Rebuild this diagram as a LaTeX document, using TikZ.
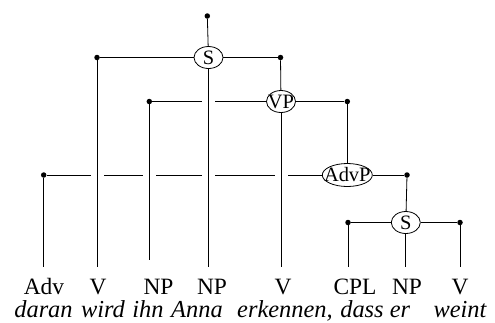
\documentclass[tikz,border=0pt]{standalone}
\usepackage{fontspec}
\setmainfont{Liberation Serif}
\usetikzlibrary{shapes.geometric}
\begin{document}
\begin{tikzpicture}[x=1bp,y=-1bp,
  phr/.style={ellipse,draw,line width=0.8bp,fill=white,inner sep=0pt,minimum width=29bp,minimum height=22bp,font=\fontsize{20.5}{20.5}\selectfont},
  dot/.style={circle,fill,inner sep=0pt,minimum size=5.5bp},
  ln/.style={line width=0.8bp},
  under/.style={ln,preaction={draw=white,line width=13bp,shorten <=9bp}},
  lab/.style={anchor=base,inner sep=0pt,font=\fontsize{23.5}{24}\selectfont},
  wd/.style={anchor=base,inner sep=0pt,font=\fontsize{24.5}{25}\selectfont\itshape}]
\useasboundingbox (0,0) rectangle (495,322);
% phrase nodes
\node[phr] (S1) at (208.5,57.5) {\makebox[0pt]{S}};
\node[phr] (VP) at (281,101.5) {\makebox[0pt]{VP}};
\node[phr,minimum width=50bp,minimum height=23bp] (AdvP) at (347.3,175) {\makebox[0pt]{AdvP}};
\node[phr] (S2) at (405.8,222.5) {\makebox[0pt]{S}};
% dots
\node[dot] (root) at (207.3,16) {};
\node[dot] (s1l) at (97,57.5) {};
\node[dot] (s1r) at (280.5,57.5) {};
\node[dot] (vpl) at (149.3,101.5) {};
\node[dot] (vpr) at (347.3,101.5) {};
\node[dot] (apl) at (43.7,175) {};
\node[dot] (apr) at (407,175) {};
\node[dot] (s2l) at (348,222.5) {};
\node[dot] (s2r) at (460,222.5) {};
% bottom ends
\coordinate (e1) at (43.7,267);
\coordinate (e2) at (97,267);
\coordinate (e3) at (149.3,260);
\coordinate (e4) at (208.5,267);
\coordinate (e5) at (281,267);
\coordinate (e6) at (348,267);
\coordinate (e7) at (405.8,267);
\coordinate (e8) at (460,267);
% horizontals
\draw[ln] (s1l) -- (S1) -- (s1r);
\draw[ln] (vpl) -- (VP) -- (vpr);
\draw[ln] (apl) -- (AdvP) -- (apr);
\draw[ln] (s2l) -- (S2) -- (s2r);
% verticals to phrase nodes
\draw[ln] (root) -- (S1);
\draw[ln] (s1r) -- (VP);
\draw[ln] (vpr) -- (AdvP);
\draw[ln] (apr) -- (S2);
% verticals to leaves
\draw[ln] (apl) -- (e1);
\draw[under] (s1l) -- (e2);
\draw[under] (vpl) -- (e3);
\draw[under] (S1) -- (e4);
\draw[under] (VP) -- (e5);
\draw[ln] (s2l) -- (e6);
\draw[ln] (S2) -- (e7);
\draw[ln] (s2r) -- (e8);
% labels
\node[lab] (c1) at (44,294.5) {Adv};
\node[lab] (c2) at (98,294.5) {V};
\node[lab] (c3) at (158.5,294.5) {NP};
\node[lab] (c4) at (212,294.5) {NP};
\node[lab] (c5) at (283,294.5) {V};
\node[lab] (c6) at (355,294.5) {CPL};
\node[lab] (c7) at (407,294.5) {NP};
\node[lab] (c8) at (460,294.5) {V};
\node[wd] (w1) at (43.5,317) {daran};
\node[wd] (w2) at (103,317) {wird};
\node[wd] (w3) at (148,317) {ihn};
\node[wd] (w4) at (197,317) {Anna};
\node[wd] (w5) at (285,317) {erkennen,};
\node[wd] (w6) at (362,317) {dass};
\node[wd] (w7) at (400,317) {er};
\node[wd] (w8) at (460,317) {weint};
\end{tikzpicture}
\end{document}
